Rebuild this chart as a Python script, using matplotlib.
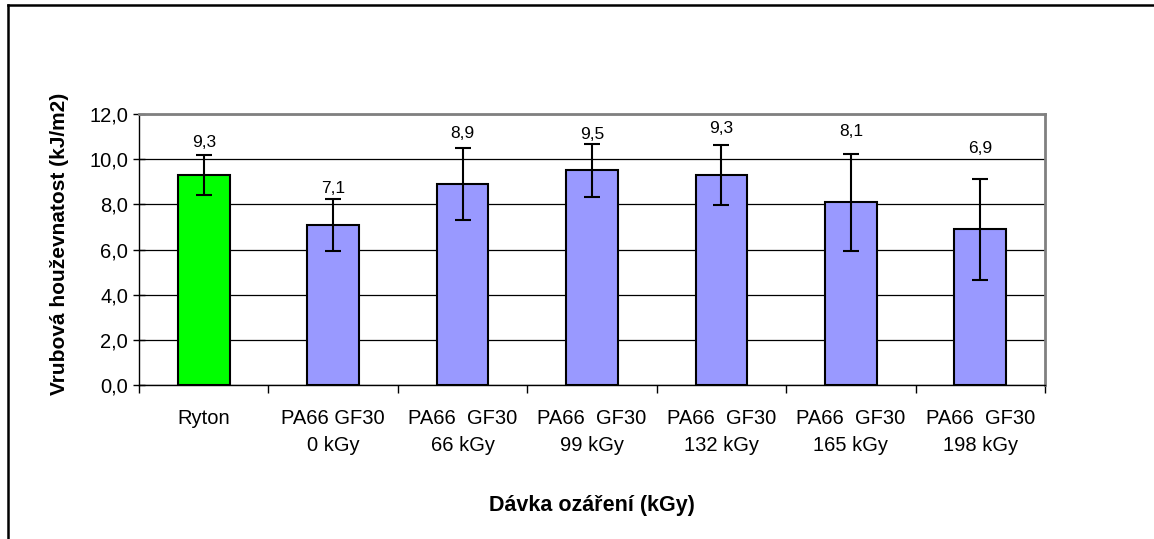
import matplotlib
matplotlib.use("Agg")
import matplotlib.pyplot as plt
from matplotlib.lines import Line2D
import numpy as np

plt.rcParams['font.family'] = ['Liberation Sans', 'DejaVu Sans']

# Data: notch impact strength per sample
categories = ["Ryton", "PA66 GF30\n0 kGy", "PA66  GF30\n66 kGy", "PA66  GF30\n99 kGy",
              "PA66  GF30\n132 kGy", "PA66  GF30\n165 kGy", "PA66  GF30\n198 kGy"]
values = [9.3, 7.1, 8.9, 9.5, 9.3, 8.1, 6.9]
errors = [0.9, 1.15, 1.6, 1.17, 1.33, 2.15, 2.23]
y_ticks = [0, 2, 4, 6, 8, 10, 12]

# Styling
bar_colors = ["#00FF00"] + ["#9999FF"] * 6
label_gap_pt = [9, 7, 10, 7, 12, 16, 22]

fig = plt.figure(figsize=(11.54, 5.39), dpi=100)
ax = fig.add_axes([139 / 1154, 1 - 385 / 539, (1045 - 139) / 1154, (385 - 114) / 539])

x = np.arange(len(categories))
ax.bar(x, values, width=0.40, color=bar_colors, edgecolor="black", linewidth=1.5, zorder=3)
ax.errorbar(x, values, yerr=errors, fmt="none", ecolor="black", elinewidth=1.5,
            capsize=5.6, capthick=1.5, zorder=4)

for xi, v, e, gap in zip(x, values, errors, label_gap_pt):
    ax.annotate(f"{v:.1f}".replace(".", ","), xy=(xi, v + e), xytext=(0, gap),
                textcoords="offset points", ha="center", va="center", fontsize=12.5)

ax.set_xlim(-0.5, len(categories) - 0.5)
ax.set_ylim(0, 12)
ax.set_yticks(y_ticks)
ax.set_yticklabels([f"{t:.1f}".replace(".", ",") for t in y_ticks], fontsize=14.5)
ax.tick_params(axis="y", direction="inout", length=8, width=1, pad=4)

# Category labels centred, ticks on category boundaries
ax.set_xticks(x)
ax.set_xticklabels(categories, fontsize=14.5, linespacing=1.55)
ax.tick_params(axis="x", length=0, pad=17)
ax.set_xticks(np.arange(len(categories) + 1) - 0.5, minor=True)
ax.tick_params(axis="x", which="minor", direction="out", length=6, width=1)

ax.yaxis.grid(True, color="black", linewidth=0.9, zorder=0)
ax.set_axisbelow(True)

for s in ["left", "bottom"]:
    ax.spines[s].set_color("black")
    ax.spines[s].set_linewidth(1)
for s in ["top", "right"]:
    ax.spines[s].set_color("#808080")
    ax.spines[s].set_linewidth(2)

ax.set_ylabel("Vrubová houževnatost (kJ/m2)", fontsize=15, fontweight="bold")
ax.yaxis.set_label_coords(-0.077, 0.52)
ax.set_xlabel("Dávka ozáření (kGy)", fontsize=15.5, fontweight="bold", labelpad=29)

# Chart frame (top and left edges)
fig.add_artist(Line2D([7.5 / 1154, 7.5 / 1154], [0, 1 - 4.5 / 539], color="black",
                      linewidth=1.8, transform=fig.transFigure))
fig.add_artist(Line2D([7.5 / 1154, 1], [1 - 4.5 / 539, 1 - 4.5 / 539], color="black",
                      linewidth=1.8, transform=fig.transFigure))

fig.savefig("out.png", dpi=100, facecolor="white")
